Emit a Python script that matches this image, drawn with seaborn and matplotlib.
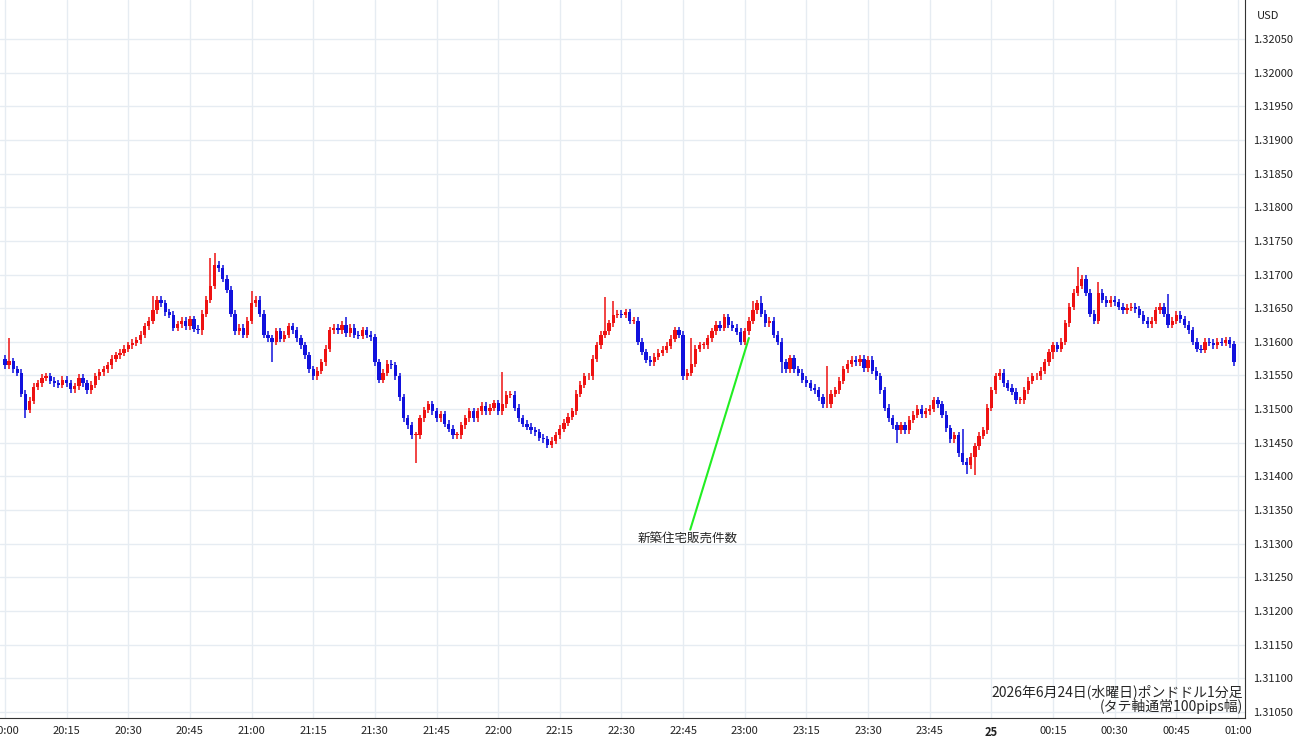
import numpy as np
import pandas as pd
import matplotlib
matplotlib.use("Agg")
import matplotlib.pyplot as plt
import seaborn as sns

# 1-minute closes, read in chart units (raw pips as measured), starting 20:00
closes = [
    54.6, 55.2, 54.0, 53.5, 50.5, 48.2, 49.5, 51.5, 52.0, 52.8,
    53.0, 52.4, 52.0, 51.8, 52.5, 52.0, 51.2, 51.6, 52.8, 52.0,
    51.0, 51.8, 53.0, 53.6, 54.0, 54.6, 55.5, 56.0, 56.4, 57.0,
    57.5, 57.8, 58.2, 59.0, 60.2, 61.0, 62.5, 64.0, 63.5, 62.2,
    61.8, 60.0, 60.5, 61.0, 60.2, 61.2, 59.8, 59.6, 62.0, 64.0,
    66.0, 69.0, 68.5, 67.0, 65.4, 62.0, 59.5, 60.0, 59.0, 61.0,
    63.5, 64.0, 62.0, 59.0, 58.5, 58.0, 59.5, 58.4, 59.0, 60.2,
    59.6, 58.5, 57.5, 56.0, 54.0, 53.0, 53.8, 55.0, 57.0, 59.6,
    60.0, 59.6, 60.4, 59.2, 60.0, 59.0, 58.8, 59.6, 59.0, 58.6,
    55.0, 52.5, 53.5, 54.8, 54.6, 53.0, 50.0, 47.0, 46.0, 44.6,
    44.6, 47.0, 48.2, 49.0, 48.0, 47.0, 47.6, 46.2, 45.5, 44.6,
    44.6, 46.0, 47.0, 48.0, 47.0, 48.0, 48.8, 48.0, 48.5, 49.2,
    48.0, 49.0, 50.4, 50.4, 48.5, 47.0, 46.2, 45.8, 45.3, 45.0,
    44.2, 44.0, 43.2, 43.8, 44.6, 45.5, 46.4, 47.2, 48.0, 50.5,
    51.8, 53.0, 53.0, 55.5, 57.5, 59.0, 59.5, 60.6, 61.8, 62.0,
    61.8, 62.2, 61.0, 61.0, 58.0, 56.5, 55.4, 55.0, 55.8, 56.4,
    56.8, 57.4, 58.4, 59.6, 59.0, 53.0, 53.5, 54.8, 57.0, 57.5,
    57.5, 58.5, 59.5, 60.4, 60.0, 61.5, 60.4, 60.0, 59.4, 58.0,
    59.5, 61.0, 62.5, 63.5, 62.0, 60.6, 61.0, 59.0, 58.0, 55.0,
    54.0, 55.6, 54.0, 53.5, 52.5, 52.0, 51.4, 51.0, 50.0, 49.0,
    49.0, 50.5, 51.0, 52.4, 54.0, 54.8, 55.4, 55.0, 55.5, 54.2,
    55.4, 53.8, 53.0, 51.0, 48.5, 47.0, 46.0, 45.3, 46.0, 45.3,
    46.8, 47.5, 48.4, 47.6, 48.0, 48.4, 49.6, 49.0, 47.5, 45.6,
    44.0, 44.6, 42.0, 40.8, 40.3, 41.5, 43.0, 44.5, 45.3, 48.5,
    51.0, 53.0, 53.5, 52.0, 51.4, 50.8, 49.6, 49.6, 51.0, 52.4,
    53.0, 53.0, 53.8, 55.0, 56.5, 57.5, 57.0, 58.0, 60.6, 63.0,
    65.0, 66.0, 67.0, 65.0, 62.0, 61.0, 65.0, 64.0, 63.5, 64.0,
    63.6, 63.0, 62.5, 62.8, 63.0, 62.6, 61.8, 61.0, 60.5, 61.0,
    62.5, 63.0, 62.0, 60.4, 61.0, 61.8, 61.2, 60.4, 59.6, 58.0,
    57.0, 56.8, 58.0, 57.8, 57.5, 58.0, 57.8, 58.2, 57.6, 55.0,
]
first_open = 55.5

# notable wick extremes (same units)
spike_highs = {1: 58.5, 36: 64.5, 50: 70.0, 51: 70.7, 60: 65.2, 83: 61.5, 90: 58.0,
               121: 53.6, 146: 64.4, 148: 63.8, 167: 58.5, 182: 63.8, 184: 64.5,
               200: 54.5, 233: 45.5, 261: 68.7, 266: 66.5, 283: 64.8}
spike_lows = {5: 47.0, 48: 59.0, 65: 55.0, 75: 52.8, 100: 40.6, 132: 42.8, 165: 52.5,
              189: 53.5, 217: 43.5, 234: 39.0, 236: 38.9, 255: 55.5}

# my readings used a slightly wrong pixel scale; calibration to real pips
calib_gain, calib_shift = 1.0386, -0.19

usd_ticks = [1.31050 + 0.0005 * k for k in range(21)]
time_labels = ["20:00", "20:15", "20:30", "20:45", "21:00", "21:15", "21:30", "21:45",
               "22:00", "22:15", "22:30", "22:45", "23:00", "23:15", "23:30", "23:45",
               "25", "00:15", "00:30", "00:45", "01:00"]

event_text = "新築住宅販売件数"
event_minute = 181
title_lines = ["2026年6月24日(水曜日)ポンドドル1分足", "(タテ軸通常100pips幅)"]


def to_price(p):
    return 1.31 + (calib_gain * np.asarray(p) + calib_shift) / 1e4


c = np.array(closes)
o = np.concatenate([[first_open], c[:-1]])
hi = np.maximum(o, c) + 0.5
lo = np.minimum(o, c) - 0.5
for k, v in spike_highs.items():
    hi[k] = max(hi[k], v)
for k, v in spike_lows.items():
    lo[k] = min(lo[k], v)
df = pd.DataFrame({"t": np.arange(len(c)), "open": to_price(o), "close": to_price(c),
                   "high": to_price(hi), "low": to_price(lo)})
df["up"] = df["close"] >= df["open"]

sns.set_style("whitegrid")
plt.rcParams['font.family'] = ['Noto Sans CJK JP', 'DejaVu Sans']

fig = plt.figure(figsize=(13, 7.45), dpi=100)
ax = fig.add_axes([0, 27 / 745, 1245 / 1300, 1 - 27 / 745])

red, blue = "#ee1111", "#1111dd"
colors = np.where(df["up"], red, blue)
ax.vlines(df["t"], df["low"], df["high"], colors=colors, linewidth=1.1, zorder=3)
body_bottom = np.minimum(df["open"], df["close"])
body_h = np.maximum(np.abs(df["close"] - df["open"]), 0.000012)
ax.bar(df["t"], body_h, bottom=body_bottom, width=0.8, color=colors, linewidth=0, zorder=4)

ax.set_xlim(-1.2, 301.7)
ax.set_ylim(1.31 + 4.1 / 1e4, 1.31 + 110.8 / 1e4)
ax.yaxis.tick_right()
ax.set_yticks(usd_ticks)
ax.set_yticklabels([f"{v:.5f}" for v in usd_ticks], fontsize=8, color="#222222")
ax.set_xticks(np.arange(0, 301, 15))
ax.set_xticklabels(time_labels, fontsize=8, color="#222222")
for lab in ax.get_xticklabels():
    if lab.get_text() == "25":
        lab.set_fontweight("bold")
ax.tick_params(axis="both", length=0, pad=6)
ax.grid(True, color="#e6ecf2", linewidth=1)
for s in ["top", "left"]:
    ax.spines[s].set_visible(False)
ax.spines["right"].set_color("#333333")
ax.spines["bottom"].set_color("#333333")
ax.text(1.0 + 12 / 1245, 1 - 16 / 718, "USD", transform=ax.transAxes, fontsize=8,
        va="center", ha="left", color="#222222")

# event annotation
ax.annotate(event_text, xy=(event_minute, to_price(58.5)),
            xytext=(166, 1.31 + 31.6 / 1e4), fontsize=9, ha="center", va="top",
            arrowprops=dict(arrowstyle="-", color="#22ee22", lw=1.5, shrinkA=0, shrinkB=0))

ax.text(0.998, 0.005 + 15 / 718, title_lines[0], transform=ax.transAxes, ha="right",
        va="bottom", fontsize=10)
ax.text(0.998, 0.005, title_lines[1], transform=ax.transAxes, ha="right",
        va="bottom", fontsize=10)

fig.savefig("out.png", dpi=100)
